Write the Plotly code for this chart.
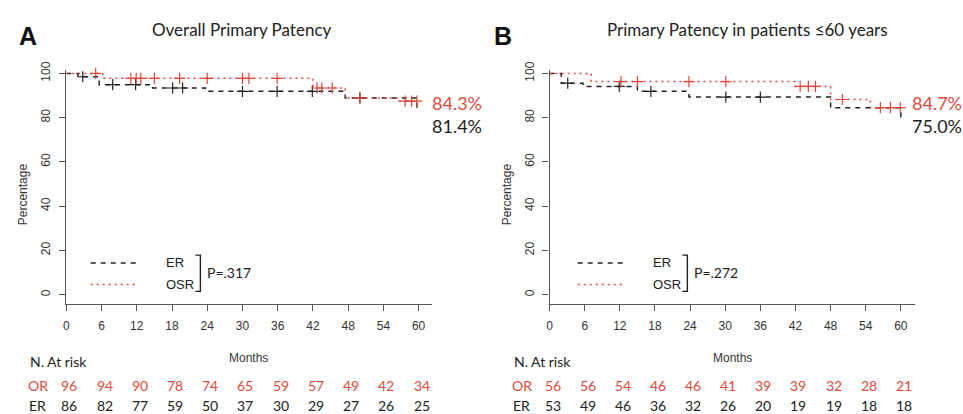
import plotly.graph_objects as go

# ---------------- data ----------------
months_ticks = [0, 6, 12, 18, 24, 30, 36, 42, 48, 54, 60]
pct_ticks = [0, 20, 40, 60, 80, 100]

# Panel A: overall primary patency
A_osr_time = [0, 6.2, 42.0, 47.5, 56.6, 59.7]
A_osr_surv = [100, 97.8, 93.4, 88.9, 87.5, 87.5]
A_osr_cens = [5, 11, 11.9, 12.7, 15, 19.3, 24, 30, 31.1, 35.9, 42.7, 43.5, 45.3, 50, 57.7, 58.8, 59.7]
A_er_time = [0, 2.0, 5.6, 14.7, 23.7, 47.5, 59.7]
A_er_surv = [100, 98.5, 94.9, 93.4, 91.9, 88.9, 83.0]
A_er_cens = [2.8, 7.9, 11.8, 18.1, 19.8, 30, 35.9, 41.9, 50]
A_or_risk = [96, 94, 90, 78, 74, 65, 59, 57, 49, 42, 34]
A_er_risk = [86, 82, 77, 59, 50, 37, 30, 29, 27, 26, 25]

# Panel B: primary patency in patients <=60 years
B_osr_time = [0, 7.1, 42.0, 48.0, 54.8, 59.9]
B_osr_surv = [100, 96.3, 94.1, 88.2, 84.5, 84.5]
B_osr_cens = [12.2, 15, 23.8, 30.1, 42.8, 44.2, 45.4, 50, 56.5, 58.2, 59.9]
B_er_time = [0, 2.0, 5.7, 15.0, 23.8, 48.0, 60.0]
B_er_surv = [100, 95.6, 94.1, 91.9, 89.3, 84.5, 78.0]
B_er_cens = [3.1, 11.9, 17.3, 30.1, 36]
B_or_risk = [56, 56, 54, 46, 46, 41, 39, 39, 32, 28, 21]
B_er_risk = [53, 49, 46, 36, 32, 26, 20, 19, 19, 18, 18]

titles = ["Overall Primary Patency", "Primary Patency in patients \u226460 years"]
panel_letters = ["A", "B"]
p_values = ["P=.317", "P=.272"]
final_osr = ["84.3%", "84.7%"]
final_er = ["81.4%", "75.0%"]

# ---------------- style ----------------
W, H = 963, 414
RED = "#E4453A"
RED_TXT = "#E04A3B"
BLK = "#222222"
AX = "#555555"
SANS = "Liberation Sans, Arial, sans-serif"
CAL = "Lato, Open Sans, sans-serif"


def step_at(times, surv, t):
    v = surv[0]
    for ti, si in zip(times, surv):
        if ti <= t:
            v = si
    return v


def px(x):
    return x / W


def py(y):
    return 1 - y / H


def ann(x, y, text, family=CAL, size=14, color=BLK, xanchor="center", **kw):
    d = dict(x=px(x), y=py(y), xref="paper", yref="paper", text=text, showarrow=False,
             xanchor=xanchor, yanchor="middle", borderpad=0,
             font=dict(family=family, size=size, color=color))
    d.update(kw)
    return d


fig = go.Figure()

panels = [
    dict(osr=(A_osr_time, A_osr_surv, A_osr_cens), er=(A_er_time, A_er_surv, A_er_cens),
         orr=A_or_risk, err=A_er_risk, x0=63.5, x1=430, xr=62.22),
    dict(osr=(B_osr_time, B_osr_surv, B_osr_cens), er=(B_er_time, B_er_surv, B_er_cens),
         orr=B_or_risk, err=B_er_risk, x0=548.3, x1=915, xr=62.44),
]

y_top_px, y_bot_px = 63.0, 301.7
y_range = [(292.3 - y_bot_px) / 2.256, (292.3 - y_top_px) / 2.256]

layout = dict(width=W, height=H, margin=dict(l=0, r=0, t=0, b=0),
              paper_bgcolor="white", plot_bgcolor="white", showlegend=False)
annotations = []
shapes = []

for i, p in enumerate(panels):
    xa = "x" if i == 0 else "x2"
    ya = "y" if i == 0 else "y2"
    xk = "xaxis" if i == 0 else "xaxis2"
    yk = "yaxis" if i == 0 else "yaxis2"
    layout[xk] = dict(domain=[px(p["x0"]), px(p["x1"])], range=[0, p["xr"]], anchor=ya,
                      tickvals=months_ticks, ticks="outside", ticklen=6, tickcolor=AX,
                      showline=True, linecolor=AX, linewidth=1.2, showgrid=False, zeroline=False,
                      tickfont=dict(family=SANS, size=12, color="#333"), ticklabelstandoff=5)
    layout[yk] = dict(domain=[py(y_bot_px), py(y_top_px)], range=y_range, anchor=xa,
                      tickvals=pct_ticks, ticks="outside", ticklen=6, tickcolor=AX, tickangle=-90,
                      showline=True, linecolor=AX, linewidth=1.2, showgrid=False, zeroline=False,
                      tickfont=dict(family=SANS, size=12, color="#333"), ticklabelstandoff=4)

    # curves
    for key, col, dash in (("er", BLK, "5px,5px"), ("osr", RED, "2px,4px")):
        t, s, c = p[key]
        fig.add_trace(go.Scatter(x=t, y=s, mode="lines", line=dict(shape="hv", color=col, width=1.5, dash=dash),
                                 xaxis=xa, yaxis=ya, cliponaxis=False, hoverinfo="skip"))
        fig.add_trace(go.Scatter(x=c, y=[step_at(t, s, ci) for ci in c], mode="markers",
                                 marker=dict(symbol="cross-thin", size=8, line=dict(color=col, width=1.2)),
                                 xaxis=xa, yaxis=ya, cliponaxis=False, hoverinfo="skip"))

    # at-risk numbers
    for row, col, ypx in ((p["orr"], RED_TXT, 384.5), (p["err"], BLK, 405.5)):
        for m, v in zip(months_ticks, row):
            annotations.append(dict(x=m, xref=xa, y=py(ypx), yref="paper", text=str(v), showarrow=False,
                                    xanchor="center", yanchor="middle", xshift=3, borderpad=0,
                                    font=dict(family=CAL, size=14, color=col)))

    ox = 0 if i == 0 else 485.5
    annotations.append(ann(35 + ox, 384.5, "OR", color=RED_TXT))
    annotations.append(ann(35 + ox, 405.5, "ER"))
    annotations.append(ann(26 + ox, 360, "N. At risk", xanchor="left"))
    annotations.append(ann((p["x0"] + p["x1"]) / 2, 357, "Months", family=SANS, size=12, color="#333"))
    annotations.append(ann(20 + ox, 190, "Percentage", family=SANS, size=12, color="#333", textangle=-90))
    annotations.append(ann(240 + ox + (21 if i else 0), 22, titles[i], size=17, color="#222"))
    annotations.append(ann(25 + ox - 9 * i, 29, "<b>%s</b>" % panel_letters[i], family=SANS, size=25, color="#111"))
    fx = 429 if i == 0 else 911
    annotations.append(ann(fx, 97, final_osr[i], size=18, color=RED_TXT, xanchor="left"))
    annotations.append(ann(fx, 120, final_er[i], size=18, color=BLK, xanchor="left"))

    # legend
    lx = 88 + ox - 1.5 * (0 if i == 0 else -2)
    shapes.append(dict(type="line", xref="paper", yref="paper", x0=px(lx), x1=px(lx + 46),
                       y0=py(260), y1=py(260), line=dict(color=BLK, width=1.6, dash="5px,5px")))
    shapes.append(dict(type="line", xref="paper", yref="paper", x0=px(lx), x1=px(lx + 48),
                       y0=py(282), y1=py(282), line=dict(color=RED, width=1.6, dash="2px,4px")))
    annotations.append(ann(lx + 75, 260, "ER", family=SANS, size=13, xanchor="left"))
    annotations.append(ann(lx + 75, 282, "OSR", family=SANS, size=13, xanchor="left"))
    bx = lx + 110
    shapes.append(dict(type="path", xref="paper", yref="paper",
                       path="M %f,%f L %f,%f L %f,%f L %f,%f" % (px(bx - 5), py(252), px(bx), py(252),
                                                               px(bx), py(289), px(bx - 5), py(289)),
                       line=dict(color=BLK, width=1.4)))
    annotations.append(ann(bx + 6, 270, p_values[i], size=14, xanchor="left"))

layout["annotations"] = annotations
layout["shapes"] = shapes
fig.update_layout(**layout)
fig.write_html("out.html", config={"displayModeBar": False},
               post_script="document.body.style.margin='0px';document.body.style.overflow='hidden';")
